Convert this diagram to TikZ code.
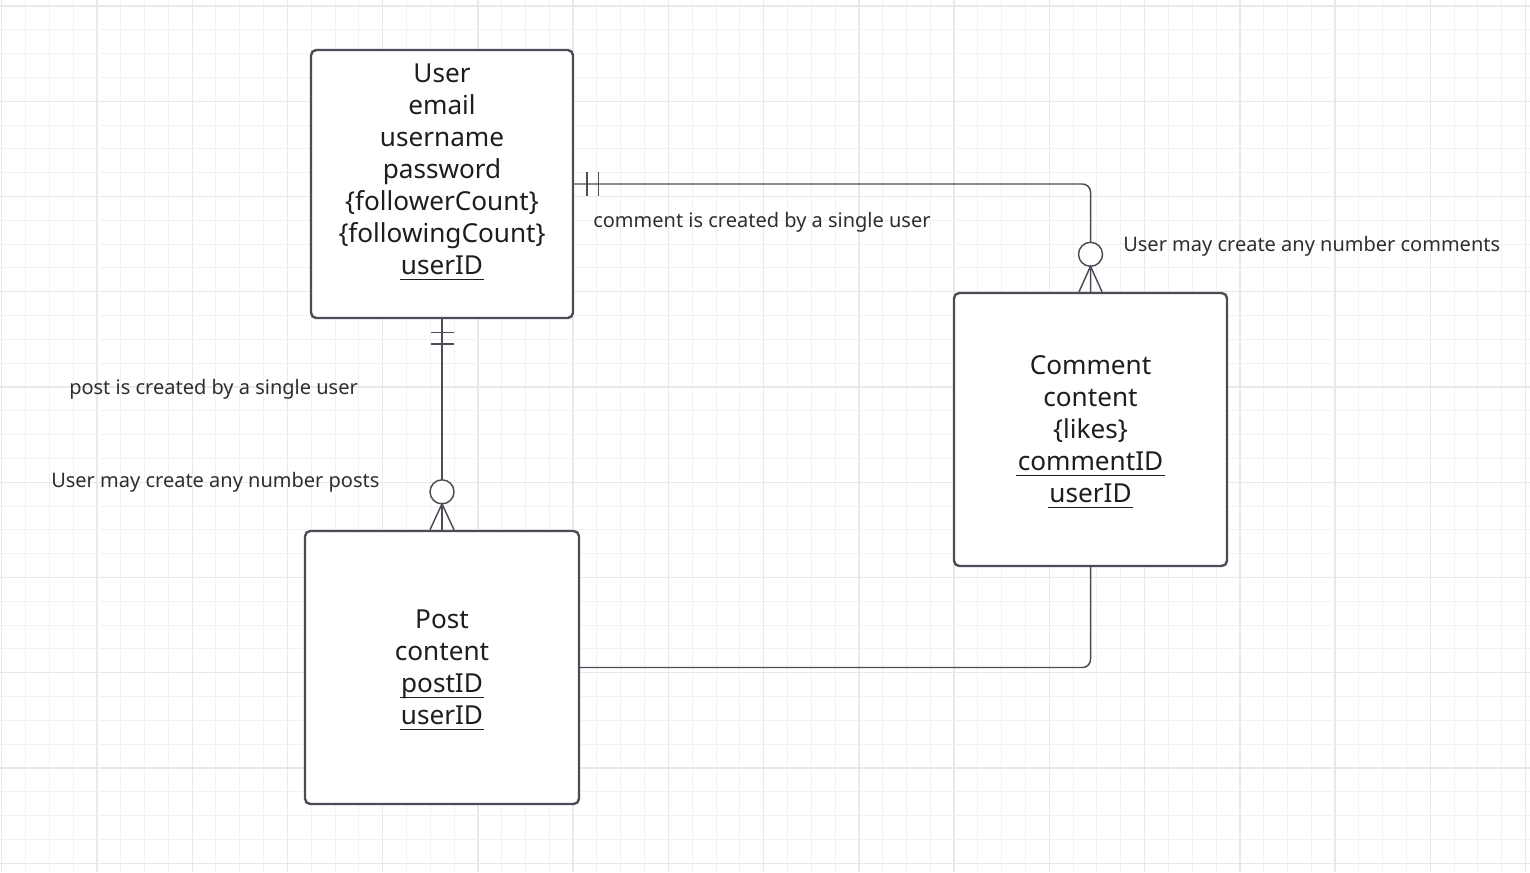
\documentclass[tikz,border=0pt]{standalone}
\usepackage{fontspec}
\setmainfont{Noto Sans}
\usetikzlibrary{calc}
\definecolor{minorgrid}{HTML}{F2F2F2}
\definecolor{majorgrid}{HTML}{E9E9E9}
\definecolor{edge}{HTML}{4A4D55}
\definecolor{ink}{HTML}{1E1E1E}
\definecolor{lblink}{HTML}{2E2E2E}
\newcommand\ulid[1]{\setbox0\hbox{#1}\rlap{\hskip-1pt\rule[-4.4pt]{\dimexpr\wd0+2pt\relax}{1.2pt}}\box0}
\tikzset{
  entity/.style={draw=edge, line width=1.8pt, rounded corners=4pt, fill=white},
  etext/.style={align=center, text=ink, font=\fontsize{19.6}{24}\selectfont, inner sep=0pt},
  lbl/.style={text=lblink, font=\fontsize{15}{18}\selectfont, inner sep=0pt, anchor=west},
  conn/.style={draw=edge, line width=1.1pt},
}
\begin{document}
\begin{tikzpicture}[x=0.75pt,y=-0.75pt]
\useasboundingbox (0,0) rectangle (1530,872);
\fill[white] (0,0) rectangle (1530,872);
% grid
\foreach \i in {0,...,64}{
  \pgfmathtruncatemacro\m{mod(\i,4)}
  \ifnum\m=0
    \draw[majorgrid, line width=1pt] ({1.7+23.81*\i},0) -- ({1.7+23.81*\i},872);
  \else
    \draw[minorgrid, line width=0.75pt] ({1.7+23.81*\i},0) -- ({1.7+23.81*\i},872);
  \fi
}
\foreach \j in {0,...,36}{
  \pgfmathtruncatemacro\m{mod(\j,4)}
  \ifnum\m=0
    \draw[majorgrid, line width=1pt] (0,{6+23.81*\j}) -- (1530,{6+23.81*\j});
  \else
    \draw[minorgrid, line width=0.75pt] (0,{6+23.81*\j}) -- (1530,{6+23.81*\j});
  \fi
}
% entities
\node[entity, minimum width=196.5pt, minimum height=201pt] (user) at (442,184) {};
\node[entity, minimum width=205.5pt, minimum height=204.75pt] (post) at (442,667.5) {};
\node[entity, minimum width=204.75pt, minimum height=204.75pt] (comment) at (1090.5,429.5) {};
\node[etext] (usertext) at (442,172) {User\\email\\username\\password\\\{followerCount\}\\\{followingCount\}\\\ulid{userID}};
\node[etext] (posttext) at (442,670) {Post\\content\\\ulid{postID}\\\ulid{userID}};
\node[etext] (commenttext) at (1090.5,432) {Comment\\content\\\{likes\}\\\ulid{commentID}\\\ulid{userID}};
% connectors
\draw[conn, rounded corners=6pt] (user.east) -- (user.east -| comment.north) -- (comment.north);
\draw[conn] (user.south) -- (post.north);
\draw[conn, rounded corners=6pt] (post.east) -- (post.east -| comment.south) -- (comment.south);
% one-and-only-one marks
\draw[conn] ($(user.east)+(13,-12)$) -- ++(0,24);
\draw[conn] ($(user.east)+(24.5,-12)$) -- ++(0,24);
\draw[conn] ($(user.south)+(-11.5,13.5)$) -- ++(23,0);
\draw[conn] ($(user.south)+(-11.5,25)$) -- ++(23,0);
% zero-or-many marks
\draw[conn, fill=white] ($(comment.north)+(0,-37.5)$) circle[radius=12];
\draw[conn] ($(comment.north)+(-11.5,0)$) -- ($(comment.north)+(0,-25.5)$) -- ($(comment.north)+(11.5,0)$);
\draw[conn, fill=white] ($(post.north)+(0,-38)$) circle[radius=12];
\draw[conn] ($(post.north)+(-12,0)$) -- ($(post.north)+(0,-26)$) -- ($(post.north)+(12,0)$);
% labels
\node[lbl] (l1) at (593,222) {comment is created by a single user};
\node[lbl] (l2) at (1123,246) {User may create any number comments};
\node[lbl] (l3) at (69,389) {post is created by a single user};
\node[lbl] (l4) at (51,482) {User may create any number posts};
\end{tikzpicture}
\end{document}
